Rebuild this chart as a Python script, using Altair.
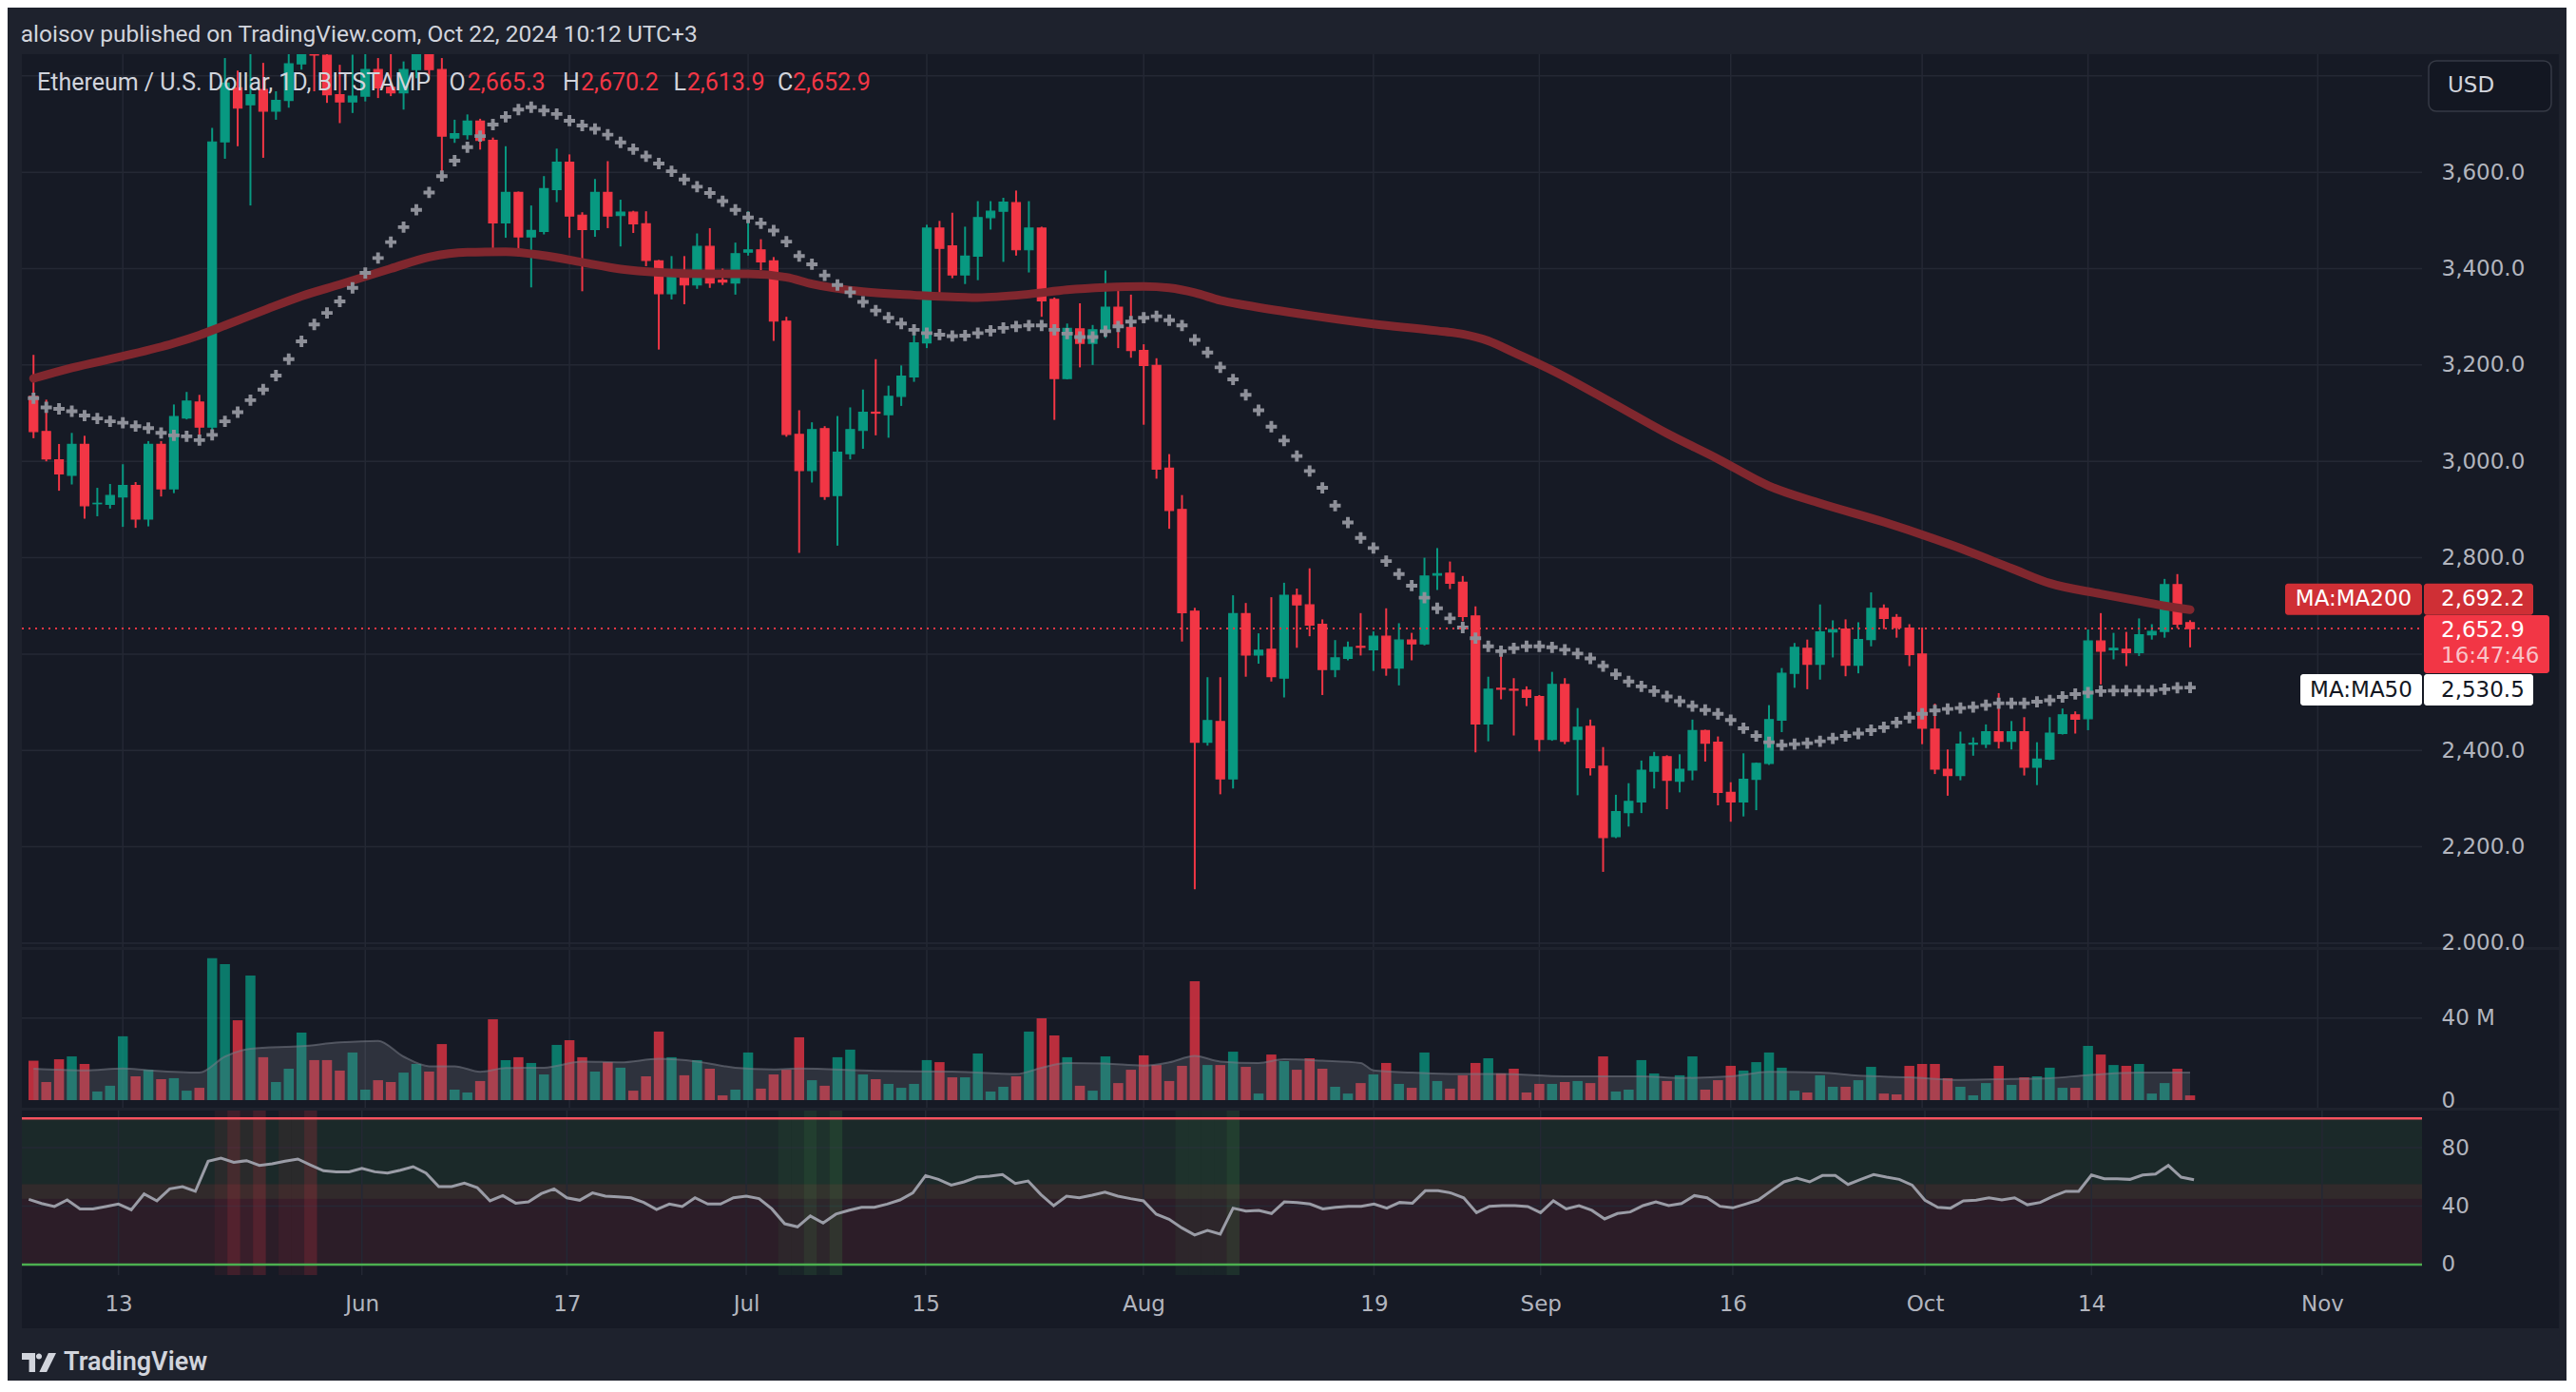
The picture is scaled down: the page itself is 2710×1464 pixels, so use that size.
import altair as alt
import pandas as pd

# ---------------- data ----------------
start = pd.Timestamp("2024-05-06")
dates = [(start + pd.Timedelta(days=i)).strftime("%Y-%m-%d") for i in range(170)]

opens = [3135,3062,3003,2971,3035,2912,2911,2926,2950,2880,
         3035,2943,3090,3123,3071,3663,3775,3740,3772,3727,
         3749,3825,3880,3843,3761,3746,3758,3813,3776,3765,
         3813,3865,3813,3671,3678,3706,3666,3495,3558,3466,
         3477,3564,3621,3511,3481,3558,3510,3517,3493,3416,
         3348,3394,3366,3446,3376,3370,3434,3439,3416,3291,
         3056,2981,3068,2929,3016,3064,3102,3097,3135,3175,
         3246,3484,3447,3387,3426,3506,3519,3537,3439,3484,
         3336,3172,3275,3245,3273,3320,3278,3230,3199,2986,
         2900,2689,2417,2460,2341,2684,2598,2610,2550,2722,
         2702,2662,2568,2591,2616,2609,2637,2571,2629,2621,
         2764,2768,2749,2679,2455,2529,2527,2525,2512,2423,
         2537,2423,2450,2367,2221,2271,2293,2357,2387,2336,
         2359,2441,2417,2313,2293,2340,2373,2463,2560,2612,
         2579,2646,2652,2577,2630,2695,2676,2654,2600,2444,
         2361,2348,2413,2413,2439,2419,2439,2365,2382,2435,
         2474,2466,2627,2609,2610,2603,2640,2647,2744,2665.3]
highs = [3221,3128,3036,3059,3053,2945,2953,2994,2957,3042,
         3042,3118,3144,3138,3692,3837,3811,3860,3827,3768,
         3851,3890,3920,3870,3823,3844,3860,3837,3850,3830,
         3890,3890,3837,3709,3720,3711,3672,3654,3560,3531,
         3592,3649,3637,3517,3586,3623,3543,3520,3519,3418,
         3426,3426,3473,3484,3400,3454,3519,3461,3424,3300,
         3106,3081,3073,3094,3112,3149,3212,3157,3199,3268,
         3491,3499,3516,3487,3540,3540,3547,3562,3540,3487,
         3340,3286,3328,3283,3396,3363,3346,3243,3214,3015,
         2930,2696,2552,2552,2722,2706,2643,2718,2748,2736,
         2778,2672,2629,2626,2685,2647,2695,2664,2644,2800,
         2820,2792,2762,2699,2553,2596,2550,2533,2515,2563,
         2550,2488,2464,2407,2308,2332,2379,2397,2390,2392,
         2464,2443,2429,2334,2394,2375,2494,2571,2623,2630,
         2703,2670,2672,2666,2728,2703,2683,2662,2655,2497,
         2402,2439,2427,2454,2519,2461,2469,2417,2469,2487,
         2481,2651,2685,2644,2646,2674,2662,2756,2766,2670.2]
lows = [3048,3000,2939,2952,2881,2886,2902,2864,2862,2865,
        2927,2934,3087,3052,3048,3628,3654,3531,3630,3709,
        3734,3813,3768,3744,3702,3723,3747,3754,3758,3730,
        3795,3800,3581,3661,3668,3647,3429,3464,3426,3361,
        3471,3538,3464,3353,3466,3484,3446,3474,3405,3232,
        3336,3326,3358,3360,3366,3346,3427,3397,3250,3051,
        2810,2956,2920,2825,3004,3026,3054,3049,3115,3165,
        3235,3350,3380,3368,3376,3481,3414,3427,3392,3300,
        3086,3170,3195,3200,3256,3235,3215,3076,2964,2860,
        2626,2112,2410,2309,2321,2553,2580,2543,2510,2613,
        2637,2515,2552,2587,2597,2565,2555,2535,2587,2618,
        2733,2735,2668,2396,2419,2506,2431,2492,2398,2420,
        2413,2307,2348,2148,2218,2242,2270,2321,2278,2313,
        2338,2377,2286,2252,2263,2276,2370,2438,2530,2527,
        2547,2593,2554,2560,2616,2652,2634,2575,2413,2351,
        2306,2338,2389,2405,2404,2402,2348,2328,2380,2433,
        2435,2442,2537,2589,2575,2596,2630,2634,2654,2613.9]
closes = [3062,3005,2974,3035,2908,2913,2929,2950,2880,3035,
          2943,3093,3125,3071,3663,3785,3733,3761,3727,3749,
          3825,3870,3843,3761,3746,3758,3813,3775,3765,3813,
          3865,3813,3675,3680,3706,3666,3495,3558,3466,3479,
          3566,3621,3509,3481,3558,3509,3517,3493,3417,3348,
          3394,3366,3446,3370,3372,3431,3439,3414,3291,3056,
          2981,3066,2927,3019,3066,3102,3100,3135,3177,3246,
          3484,3442,3387,3426,3506,3519,3538,3439,3484,3333,
          3172,3276,3245,3273,3320,3278,3230,3199,2984,2898,
          2686,2417,2462,2341,2684,2598,2608,2553,2722,2702,
          2660,2568,2592,2614,2614,2637,2571,2629,2621,2762,
          2767,2747,2678,2455,2527,2527,2525,2510,2423,2537,
          2419,2448,2364,2219,2273,2294,2359,2387,2338,2361,
          2441,2415,2313,2293,2340,2373,2464,2560,2614,2579,
          2646,2651,2577,2630,2695,2674,2655,2599,2446,2361,
          2348,2413,2415,2439,2419,2439,2365,2382,2436,2474,
          2465,2627,2606,2612,2603,2640,2647,2744,2662,2652.9]
volumes = [19.2,8.8,19.9,21.3,17.6,4.2,7.0,31.1,11.6,14.8,
           10.2,10.7,4.6,6.0,69.1,66.3,38.9,60.7,20.9,8.8,
           15.3,32.9,19.5,19.5,14.4,23.2,5.1,9.7,8.8,13.4,
           17.6,13.9,27.3,5.1,3.7,9.3,39.4,19.5,20.9,18.1,
           12.5,26.9,29.2,20.9,13.9,18.5,15.8,4.6,11.6,33.4,
           20.9,12.1,19.5,15.3,2.3,5.1,23.2,5.6,12.5,14.8,
           30.6,9.7,7.0,20.9,24.6,12.5,10.2,7.9,6.0,7.9,
           19.5,18.5,11.1,11.1,22.7,4.2,6.5,11.6,33.4,39.9,
           31.5,20.9,7.0,4.6,21.3,8.3,14.8,21.8,17.1,9.3,
           16.7,57.9,17.1,17.1,23.6,16.2,3.2,22.2,19.0,14.8,
           20.4,15.3,6.5,3.2,8.3,12.5,18.1,7.9,6.0,23.2,
           9.3,5.6,12.1,18.1,20.4,13.0,15.3,3.7,7.9,7.9,
           8.8,9.3,8.3,21.3,4.2,5.1,19.5,13.0,9.3,12.1,
           21.3,5.1,9.7,16.7,14.4,18.5,23.2,15.8,4.6,3.7,
           12.1,6.5,6.5,9.7,16.2,3.2,2.8,16.7,17.6,17.6,
           10.7,6.5,2.3,8.3,16.7,7.4,11.1,11.6,15.8,6.0,
           6.0,26.4,22.2,17.1,16.7,17.6,3.2,8.3,15.3,2.3]
ma50 = [3131,3112,3109,3104,3095,3089,3083,3080,3073,3069,
        3059,3054,3052,3044,3055,3083,3102,3127,3149,3178,
        3212,3249,3284,3308,3332,3360,3391,3422,3455,3486,
        3522,3558,3592,3624,3652,3675,3699,3715,3730,3735,
        3728,3721,3707,3697,3690,3678,3662,3648,3633,3618,
        3602,3585,3570,3557,3540,3522,3506,3494,3479,3456,
        3426,3409,3386,3366,3351,3331,3313,3298,3286,3273,
        3266,3263,3260,3261,3266,3271,3277,3280,3282,3282,
        3273,3265,3258,3258,3270,3280,3290,3298,3301,3293,
        3282,3252,3226,3195,3170,3138,3106,3072,3043,3011,
        2980,2945,2908,2873,2841,2820,2793,2766,2742,2717,
        2695,2674,2655,2633,2616,2606,2612,2616,2616,2614,
        2609,2601,2591,2575,2558,2543,2533,2523,2512,2502,
        2492,2484,2476,2463,2446,2430,2417,2411,2413,2415,
        2419,2425,2430,2435,2442,2448,2458,2468,2476,2483,
        2486,2488,2490,2494,2498,2498,2498,2501,2504,2511,
        2517,2520,2523,2524,2524,2524,2524,2527,2530,2530.5]
rsi = [44.6,41.8,39.7,44.2,38.1,38.1,39.7,41.4,37.5,48.3,
       43.6,51.8,53.3,50.1,70.7,72.8,70.0,71.1,67.8,68.9,
       70.7,72.2,68.1,64.2,63.5,63.5,65.9,63.5,62.6,64.6,
       67.0,62.6,53.3,53.3,55.7,52.7,43.6,47.2,42.0,42.9,
       48.5,51.8,45.7,44.0,49.0,46.8,46.4,45.7,42.5,37.7,
       41.4,39.7,45.7,41.4,41.4,45.7,46.8,45.1,38.1,27.9,
       25.8,33.2,28.4,34.5,37.1,39.2,39.2,41.4,44.2,49.0,
       60.9,58.3,54.4,56.6,59.8,60.5,61.6,55.5,57.2,47.9,
       40.3,46.8,45.7,47.5,49.6,46.8,45.1,43.6,34.5,31.0,
       25.1,20.2,23.4,20.8,38.6,36.6,37.1,34.9,42.9,42.5,
       41.4,38.1,39.2,39.9,39.9,41.4,38.6,42.5,42.0,50.5,
       50.5,49.0,45.7,35.5,39.9,40.3,40.3,39.7,35.5,43.6,
       38.1,40.3,37.1,31.2,34.9,36.0,40.3,42.9,40.3,41.8,
       47.2,45.7,39.9,38.8,41.4,44.2,50.5,56.6,59.2,56.6,
       60.9,60.9,54.8,58.3,61.6,59.8,58.3,54.4,44.0,39.2,
       38.6,43.6,44.0,45.7,44.2,45.7,40.9,42.5,46.8,50.1,
       50.1,61.3,58.7,58.7,58.3,61.3,62.0,67.8,59.8,58.1]

ma200_idx = [0,3,7,11,13,15,18,21,24,28,31,34,37,40,43,46,49,53,56,59,61,65,69,74,78,
             81,84,87,89,91,93,95,100,105,110,112,114,116,119,124,128,132,136,140,145,
             150,155,158,162,165,167,169]
ma200_val = [3172,3194,3218,3245,3262,3282,3313,3343,3367,3400,3424,3434,3435,3427,3413,
             3399,3392,3389,3389,3382,3368,3352,3345,3340,3347,3356,3361,3363,3360,3350,
             3334,3324,3303,3285,3271,3264,3250,3226,3189,3117,3058,3005,2949,2913,2874,
             2829,2778,2747,2725,2710,2700,2692.2]
volma_idx = [0,4,7,9,13,15,17,21,24,27,29,31,33,35,37,40,43,46,49,52,55,58,60,66,72,
             77,79,81,84,87,89,91,93,96,98,101,104,105,108,112,115,120,123,126,129,
             133,136,140,143,147,151,155,158,161,165,169]
volma_val = [15.3,14.5,15.4,14.5,13.4,21.2,25.0,26.3,28.1,28.9,21.2,16.5,16.5,13.8,15.6,
             15.8,18.8,18.4,20.1,18.8,15.8,15.0,15.4,14.2,13.9,12.7,15.8,18.1,17.8,16.8,
             18.4,21.5,18.8,18.1,19.9,19.2,18.1,14.5,13.4,12.7,12.7,11.6,11.6,11.6,10.8,
             11.6,13.8,13.4,11.9,11.1,9.9,10.3,10.7,12.2,13.4,13.4]

stripe_red_faint = [15, 17, 20, 21]
stripe_red_bright = [16, 18, 22]
stripe_green_faint = [59, 60, 62, 90, 91, 92, 93]
stripe_green_bright = [61, 63, 94]

tick_dates = ["2024-05-13", "2024-06-01", "2024-06-17", "2024-07-01", "2024-07-15",
              "2024-08-01", "2024-08-19", "2024-09-01", "2024-09-16", "2024-10-01",
              "2024-10-14", "2024-11-01"]
price_ticks = [2000, 2200, 2400, 2600, 2800, 3000, 3200, 3400, 3600, 3800]
hidden_price_labels = [2600, 3800]   # covered by the price tag and the USD box
vol_ticks = [0, 40]
rsi_ticks = [0, 40, 80]

title_text = "aloisov published on TradingView.com, Oct 22, 2024 10:12 UTC+3"
symbol_text = "Ethereum / U.S. Dollar, 1D, BITSTAMP"
countdown = "16:47:46"

# ---------------- styling ----------------
BG_OUT = "#1e222d"
BG_PANE = "#161a25"
GRID = "#242834"
TXT = "#b2b5be"
LEG = "#d1d4dc"
UP = "#089981"
DN = "#f23645"
FONT = "Roboto"
SFONT = "DejaVu Sans"

W = 2525
EXT = 144
H_P, H_V, H_R = 939, 166, 173
AXIS_H = 56
PMIN, PMAX = 1992, 3845
VMIN, VMAX = -3.7, 73.2
RMIN, RMAX = -7.2, 105.4

df = pd.DataFrame({"date": dates, "o": opens, "h": highs, "l": lows, "c": closes,
                   "vol": volumes, "ma50": ma50, "rsi": rsi})
df["dir"] = ["up" if c >= o else "down" for o, c in zip(opens, closes)]
ma200_df = pd.DataFrame({"date": [dates[i] for i in ma200_idx], "v": ma200_val})
volma_df = pd.DataFrame({"date": [dates[i] for i in volma_idx], "v": volma_val})
ticks_df = pd.DataFrame({"d": tick_dates})
one = pd.DataFrame({"k": [0]})

def iso(day, hours):
    return (start + pd.Timedelta(days=day, hours=hours)).strftime("%Y-%m-%dT%H:%M:%SZ")

srows = []
for lst, col, op in [(stripe_red_faint, DN, 0.07), (stripe_red_bright, DN, 0.2),
                     (stripe_green_faint, "#4caf50", 0.07), (stripe_green_bright, "#4caf50", 0.16)]:
    for d in lst:
        srows.append({"s": iso(d, -12), "e": iso(d, 12), "col": col, "op": op})
stripes_df = pd.DataFrame(srows)

def dt(s, h=0, m=0):
    t = pd.Timestamp(s)
    return alt.DateTime(year=t.year, month=t.month, date=t.day, hours=h, minutes=m, utc=True)

xs = alt.Scale(type="utc", domain=[dt("2024-05-05", 11, 2), dt("2024-11-08", 19, 12)])
dir_scale = alt.Scale(domain=["up", "down"], range=[UP, DN])

x_axis = alt.Axis(values=[dt(d) for d in tick_dates], grid=False, domain=False, ticks=False,
                  tickSize=0, labelPadding=19, labelFontSize=23, labelColor=TXT, labelFont=SFONT,
                  labelFlush=False, labelOverlap=False, zindex=1, title=None,
                  labelExpr="utcFormat(datum.value, '%d') == '01' ? utcFormat(datum.value, '%b') : utcFormat(datum.value, '%-d')")

def X(field, axis=None):
    return alt.X(field, type="temporal", scale=xs, axis=axis, title=None)

label_axis = dict(orient="right", grid=False, domain=False, ticks=False, tickSize=0,
                  labelPadding=20, labelAlign="left", labelBaseline="middle",
                  labelFontSize=23, labelColor=TXT, labelFont=SFONT, zindex=1,
                  labelFlush=False, labelOverlap=False, title=None)

hide_expr = " || ".join(f"datum.value == {v}" for v in hidden_price_labels)
ps = alt.Scale(domain=[PMIN, PMAX], nice=False, zero=False)
p_axis = alt.Axis(values=price_ticks,
                  labelExpr=f"({hide_expr}) ? '' : format(datum.value, ',.1f')", **label_axis)
vs = alt.Scale(domain=[VMIN, VMAX], nice=False, zero=False)
v_axis = alt.Axis(values=vol_ticks,
                  labelExpr="datum.value == 0 ? '0' : datum.value + ' M'", **label_axis)
rs = alt.Scale(domain=[RMIN, RMAX], nice=False, zero=False)
r_axis = alt.Axis(values=rsi_ticks, **label_axis)

def py(v):
    return (PMAX - v) * H_P / (PMAX - PMIN)

def bg(h):
    return alt.Chart(one).mark_rect(color=BG_PANE).encode(
        x=alt.value(0), x2=alt.value(W + EXT), y=alt.value(0), y2=alt.value(h))

def vgrid(h, axis=None):
    return alt.Chart(ticks_df).mark_rule(color=GRID, strokeWidth=1.5).encode(
        x=X("d", axis), y=alt.value(0), y2=alt.value(h))

# ---------------- price panel ----------------
p_grid = alt.Chart(pd.DataFrame({"v": price_ticks})).mark_rule(color=GRID, strokeWidth=1.5).encode(
    y=alt.Y("v:Q", scale=ps, axis=p_axis), x=alt.value(0), x2=alt.value(W))
wicks = alt.Chart(df).mark_rule(strokeWidth=2, clip=True).encode(
    x=X("date"), y=alt.Y("l:Q", scale=ps, axis=p_axis), y2="h:Q",
    color=alt.Color("dir:N", scale=dir_scale, legend=None))
bodies = alt.Chart(df).mark_bar(size=9, strokeWidth=1.2, clip=True).encode(
    x=X("date"), y=alt.Y("o:Q", scale=ps, axis=p_axis), y2="c:Q",
    color=alt.Color("dir:N", scale=dir_scale, legend=None),
    stroke=alt.Stroke("dir:N", scale=dir_scale, legend=None))
ma200_line = alt.Chart(ma200_df).mark_line(color="#80272e", strokeWidth=9, interpolate="monotone",
                                            strokeCap="round", clip=True).encode(
    x=X("date"), y=alt.Y("v:Q", scale=ps, axis=p_axis))
CROSS = "M-1,-0.33H-0.33V-1H0.33V-0.33H1V0.33H0.33V1H-0.33V0.33H-1Z"
ma50_pts = alt.Chart(df).mark_point(shape=CROSS, filled=True, size=140, color="#8e9099",
                                    opacity=1, clip=True).encode(
    x=X("date"), y=alt.Y("ma50:Q", scale=ps, axis=p_axis))
last_close = closes[-1]
price_line = alt.Chart(pd.DataFrame({"v": [last_close]})).mark_rule(
    color=DN, strokeDash=[2, 5], strokeWidth=2).encode(
    y=alt.Y("v:Q", scale=ps, axis=p_axis), x=alt.value(0), x2=alt.value(W))

def txt(s, x, y, color, size=23, align="left", weight="normal", font=FONT):
    return alt.Chart(one).mark_text(text=s, color=color, fontSize=size, font=font, align=align,
                                    baseline="middle", fontWeight=weight).encode(
        x=alt.value(x), y=alt.value(y))

def box(x1, x2, y1, y2, color, radius=3, stroke=None):
    kw = dict(color=color, cornerRadius=radius)
    if stroke:
        kw.update(stroke=stroke, strokeWidth=1.5)
    return alt.Chart(one).mark_rect(**kw).encode(
        x=alt.value(x1), x2=alt.value(x2), y=alt.value(y1), y2=alt.value(y2))

LY = 29.5
LS = 25
legend_layers = [
    txt(symbol_text, 16, LY, LEG, size=LS),
    txt("O", 449.5, LY, LEG, size=LS), txt(f"{opens[-1]:,.1f}", 468.8, LY, DN, size=LS),
    txt("H", 569, LY, LEG, size=LS), txt(f"{highs[-1]:,.1f}", 588, LY, DN, size=LS),
    txt("L", 685.6, LY, LEG, size=LS), txt(f"{lows[-1]:,.1f}", 699.7, LY, DN, size=LS),
    txt("C", 795, LY, LEG, size=LS), txt(f"{closes[-1]:,.1f}", 811, LY, DN, size=LS),
]

ma200_last = ma200_val[-1]
ma50_last = ma50[-1]
c200 = py(ma200_last) - 11
cpx = py(last_close)
c50 = py(ma50_last) + 2.4
MA200_COL = "#cf2f35"
BS = 23
side_layers = [
    box(2532, 2661, 7, 60, "#131722", radius=8, stroke="#363a45"),
    txt("USD", 2552, 33, LEG, size=BS, font=SFONT),
    box(2381, 2525, c200 - 16.5, c200 + 16.5, MA200_COL, radius=3),
    txt("MA:MA200", 2453, c200, "#ffffff", size=BS, align="center", font=SFONT),
    box(2527, 2642, c200 - 16.5, c200 + 16.5, MA200_COL, radius=3),
    txt(f"{ma200_last:,.1f}", 2545, c200, "#ffffff", size=BS, font=SFONT),
    box(2527, 2659, cpx - 14, cpx + 47, DN, radius=3),
    txt(f"{last_close:,.1f}", 2545, cpx + 2, "#ffffff", size=BS, font=SFONT),
    txt(countdown, 2545, cpx + 28.5, "#f9c4c9", size=BS, font=SFONT),
    box(2397, 2525, c50 - 16.5, c50 + 16.5, "#ffffff", radius=3),
    txt("MA:MA50", 2461, c50, "#131722", size=BS, align="center", font=SFONT),
    box(2527, 2642, c50 - 16.5, c50 + 16.5, "#ffffff", radius=3),
    txt(f"{ma50_last:,.1f}", 2545, c50, "#131722", size=BS, font=SFONT),
]

price = alt.layer(bg(H_P), p_grid, vgrid(H_P), wicks, bodies, ma200_line, ma50_pts, price_line,
                  *legend_layers, *side_layers).properties(width=W, height=H_P)

# ---------------- volume panel ----------------
v_grid = alt.Chart(pd.DataFrame({"v": [40]})).mark_rule(color=GRID, strokeWidth=1.5).encode(
    y=alt.Y("v:Q", scale=vs, axis=v_axis), x=alt.value(0), x2=alt.value(W))
vbars = alt.Chart(df).mark_bar(size=10.5, opacity=0.75).encode(
    x=X("date"), y=alt.Y("vol:Q", scale=vs, axis=v_axis), y2=alt.Y2Datum(0),
    color=alt.Color("dir:N", scale=dir_scale, legend=None))
varea = alt.Chart(volma_df).mark_area(color="#787b86", opacity=0.25, interpolate="monotone").encode(
    x=X("date"), y=alt.Y("v:Q", scale=vs, axis=v_axis), y2=alt.Y2Datum(0))
vline = alt.Chart(volma_df).mark_line(color="#787b86", opacity=0.55, strokeWidth=2,
                                      interpolate="monotone").encode(
    x=X("date"), y=alt.Y("v:Q", scale=vs, axis=v_axis))
volume = alt.layer(bg(H_V), v_grid, vgrid(H_V), vbars, varea, vline).properties(width=W, height=H_V)

# ---------------- RSI panel ----------------
r_grid = alt.Chart(pd.DataFrame({"v": [40, 80]})).mark_rule(color=GRID, strokeWidth=1.5).encode(
    y=alt.Y("v:Q", scale=rs, axis=r_axis), x=alt.value(0), x2=alt.value(W))
band_hi = alt.Chart(pd.DataFrame({"a": [100], "b": [45]})).mark_rect(color="#4caf50", opacity=0.1).encode(
    y=alt.Y("a:Q", scale=rs, axis=r_axis), y2="b:Q", x=alt.value(0), x2=alt.value(W))
band_lo = alt.Chart(pd.DataFrame({"a": [55], "b": [0]})).mark_rect(color=DN, opacity=0.1).encode(
    y=alt.Y("a:Q", scale=rs, axis=r_axis), y2="b:Q", x=alt.value(0), x2=alt.value(W))
stripes = alt.Chart(stripes_df).mark_rect(clip=True).encode(
    x=X("s", x_axis), x2="e:T", y=alt.value(0), y2=alt.value(H_R),
    color=alt.Color("col:N", scale=None), opacity=alt.Opacity("op:Q", scale=None))
line100 = alt.Chart(pd.DataFrame({"v": [100]})).mark_rule(color="#f7525f", strokeWidth=2.5).encode(
    y=alt.Y("v:Q", scale=rs, axis=r_axis), x=alt.value(0), x2=alt.value(W))
line0 = alt.Chart(pd.DataFrame({"v": [0]})).mark_rule(color="#4caf50", strokeWidth=2.5).encode(
    y=alt.Y("v:Q", scale=rs, axis=r_axis), x=alt.value(0), x2=alt.value(W))
rsi_line = alt.Chart(df).mark_line(color="#9a9ca6", strokeWidth=3).encode(
    x=X("date", x_axis), y=alt.Y("rsi:Q", scale=rs, axis=r_axis))
LOGO = ("M-1,-0.55H-0.22V0.55H-0.58V-0.16H-1Z "
        "M-0.17,-0.36a0.17,0.17 0 1,0 0.34,0a0.17,0.17 0 1,0 -0.34,0Z "
        "M0.55,-0.55H1L0.45,0.55H0.02Z")
logo = alt.Chart(one).mark_point(shape=LOGO, filled=True, size=1296, color=LEG, opacity=1).encode(
    x=alt.value(18), y=alt.value(H_R + 92))
logo_txt = txt("TradingView", 44, H_R + 92, LEG, size=27, weight=600)
rsi_panel = alt.layer(bg(H_R + AXIS_H), band_hi, band_lo, r_grid, vgrid(H_R, x_axis), stripes,
                      line100, line0, rsi_line, logo, logo_txt).properties(width=W, height=H_R)

chart = alt.vconcat(price, volume, rsi_panel, spacing=3, bounds="flush").properties(
    title=alt.TitleParams(title_text, anchor="start", fontSize=24.5, color=LEG, font=FONT,
                          fontWeight="normal", offset=7),
    padding={"left": 13, "top": 15, "right": 8, "bottom": 6},
).configure(background=BG_OUT).configure_view(stroke=None, fill=BG_PANE)

chart.save("out.html", embed_options={"renderer": "svg", "actions": False})
